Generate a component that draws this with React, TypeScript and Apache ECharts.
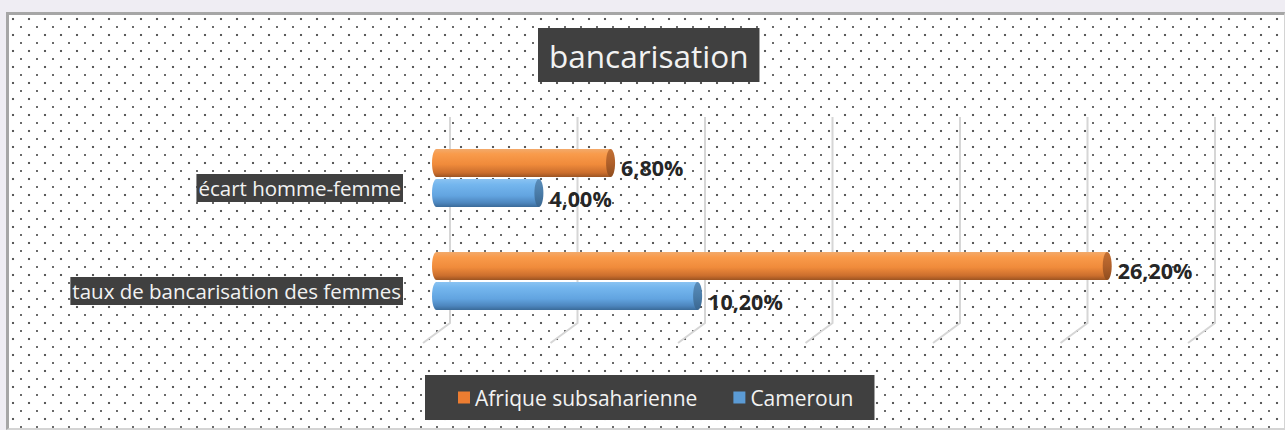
import React, { useEffect, useRef } from 'react';
import * as echarts from 'echarts';

const categories = ['écart homme-femme', 'taux de bancarisation des femmes'];
const seriesNames = ['Afrique subsaharienne', 'Cameroun'];
const afriqueValues = [6.8, 26.2];
const camerounValues = [4.0, 10.2];
const gridTicks = [0, 5, 10, 15, 20, 25, 30];
const titleText = 'bancarisation';

const FONT = '"Open Sans", "Noto Sans", sans-serif';
const COLORS = ['#ED7D31', '#5B9BD5'];

const palettes = [
  {
    body: [
      { offset: 0, color: '#F2AA6C' },
      { offset: 0.18, color: '#F99B4B' },
      { offset: 0.55, color: '#F08B3B' },
      { offset: 0.85, color: '#CB6E2D' },
      { offset: 1, color: '#9C5422' },
    ],
    cap: [
      { offset: 0, color: '#C27034' },
      { offset: 0.5, color: '#B0602A' },
      { offset: 1, color: '#8E4C1E' },
    ],
  },
  {
    body: [
      { offset: 0, color: '#8AC3F2' },
      { offset: 0.2, color: '#74B6EE' },
      { offset: 0.6, color: '#62A4E0' },
      { offset: 0.85, color: '#4D86BE' },
      { offset: 1, color: '#3A6A98' },
    ],
    cap: [
      { offset: 0, color: '#5A8DBA' },
      { offset: 0.5, color: '#4A7CA8' },
      { offset: 1, color: '#3A6690' },
    ],
  },
];

function fmt(v: number) {
  return v.toFixed(2).replace('.', ',') + '%';
}

function makeBarRender(idx: number) {
  return (_params: any, api: any) => {
    const v = api.value(0);
    const cat = api.value(1);
    const p0 = api.coord([0, cat]);
    const p1 = api.coord([v, cat]);
    const band = api.size([0, 1])[1];
    const h = band * 0.272;
    const off = band * 0.146 * (idx === 0 ? -1 : 1);
    const cy = p0[1] + off;
    const rx = 4.5;
    const ry = h / 2;
    const pal = palettes[idx];
    const bodyFill = new echarts.graphic.LinearGradient(0, 0, 0, 1, pal.body);
    const capFill = new echarts.graphic.LinearGradient(0, 0, 0, 1, pal.cap);
    return {
      type: 'group',
      children: [
        { type: 'ellipse', shape: { cx: p0[0], cy, rx, ry }, style: { fill: bodyFill } },
        {
          type: 'rect',
          shape: { x: p0[0], y: cy - ry, width: p1[0] - p0[0], height: h },
          style: { fill: bodyFill },
        },
        { type: 'ellipse', shape: { cx: p1[0], cy, rx, ry }, style: { fill: capFill } },
        {
          type: 'text',
          style: {
            text: fmt(v),
            x: p1[0] + rx + 6,
            y: cy + 5,
            fill: '#262626',
            fontSize: 21.5,
            fontWeight: 'bold',
            fontFamily: FONT,
            align: 'left',
            verticalAlign: 'middle',
          },
        },
      ],
    };
  };
}

function gridRender(_params: any, api: any) {
  const t = api.value(0);
  const top = api.coord([t, 1]);
  const bot = api.coord([t, 0]);
  return {
    type: 'polyline',
    shape: {
      points: [
        [top[0], top[1]],
        [bot[0], bot[1]],
        [bot[0] - 27, bot[1] + 20],
      ],
    },
    style: { stroke: '#d6d6d6', lineWidth: 2, fill: null },
  };
}

export default function App() {
  const ref = useRef<HTMLDivElement>(null);

  useEffect(() => {
    if (!ref.current) return;
    const chart = echarts.init(ref.current, null, { renderer: 'svg' });
    const option: any = {
      animation: false,
      color: COLORS,
      backgroundColor: 'transparent',
      title: {
        text: titleText,
        left: 538,
        top: 28,
        backgroundColor: '#404040',
        padding: [8, 11, 8, 11],
        textStyle: {
          color: '#f2f2f2',
          fontSize: 31.5,
          fontWeight: 'normal',
          fontFamily: FONT,
          lineHeight: 38,
        },
      },
      legend: {
        data: seriesNames,
        left: 425,
        top: 375,
        backgroundColor: '#404040',
        padding: [10, 21, 10, 33],
        itemGap: 36,
        itemWidth: 12,
        itemHeight: 12,
        icon: 'rect',
        textStyle: { color: '#f2f2f2', fontSize: 21, fontFamily: FONT, lineHeight: 25 },
      },
      grid: [
        { left: 436.5, right: 80.5, top: 126.5, height: 206 },
        { left: 450, right: 70, top: 117, height: 206 },
        { left: 436.5, right: 80.5, top: 136.5, height: 206 },
      ],
      xAxis: [
        { type: 'value', gridIndex: 0, min: 0, max: 30, show: false },
        { type: 'value', gridIndex: 1, min: 0, max: 30, show: false },
        { type: 'value', gridIndex: 2, min: 0, max: 30, show: false },
      ],
      yAxis: [
        { type: 'category', gridIndex: 0, inverse: true, data: categories, show: false },
        { type: 'value', gridIndex: 1, min: 0, max: 1, show: false },
        {
          type: 'category',
          gridIndex: 2,
          inverse: true,
          data: categories,
          axisLine: { show: false },
          axisTick: { show: false },
          splitLine: { show: false },
          axisLabel: {
            margin: 33.5,
            color: '#f2f2f2',
            backgroundColor: '#404040',
            padding: [2, 2, 2, 2],
            fontSize: 20.5,
            lineHeight: 24,
            fontFamily: FONT,
          },
        },
      ],
      series: [
        {
          name: 'grid',
          type: 'custom',
          xAxisIndex: 1,
          yAxisIndex: 1,
          z: 1,
          silent: true,
          renderItem: gridRender,
          encode: { x: 0, y: 1 },
          data: gridTicks.map((t) => [t, 0]),
        },
        {
          name: seriesNames[0],
          type: 'custom',
          xAxisIndex: 0,
          yAxisIndex: 0,
          z: 3,
          itemStyle: { color: COLORS[0] },
          renderItem: makeBarRender(0),
          encode: { x: 0, y: 1 },
          data: afriqueValues.map((v, i) => [v, i]),
        },
        {
          name: seriesNames[1],
          type: 'custom',
          xAxisIndex: 0,
          yAxisIndex: 0,
          z: 3,
          itemStyle: { color: COLORS[1] },
          renderItem: makeBarRender(1),
          encode: { x: 0, y: 1 },
          data: camerounValues.map((v, i) => [v, i]),
        },
      ],
    };
    chart.setOption(option);
    return () => chart.dispose();
  }, []);

  return (
    <div
      style={{
        position: 'absolute',
        left: 0,
        top: 0,
        width: 1285,
        height: 430,
        background: '#efedf3',
        overflow: 'hidden',
      }}
    >
      <div
        style={{
          position: 'absolute',
          left: 6,
          top: 12,
          width: 1275,
          height: 413,
          borderLeft: '3px solid #a6a6a6',
          borderTop: '3px solid #a6a6a6',
          borderRight: '1px solid #d4d4d4',
          borderBottom: '2px solid #d4d4d4',
          backgroundColor: '#ffffff',
          backgroundImage:
            'radial-gradient(circle at 4px 4px, #5a5a5a 1px, transparent 1.6px), radial-gradient(circle at 12px 12px, #6a6a6a 0.9px, transparent 1.5px)',
          backgroundSize: '16px 16px',
        }}
      />
      <div
        ref={ref}
        style={{ position: 'absolute', left: 0, top: 0, width: 1285, height: 430 }}
      />
    </div>
  );
}
